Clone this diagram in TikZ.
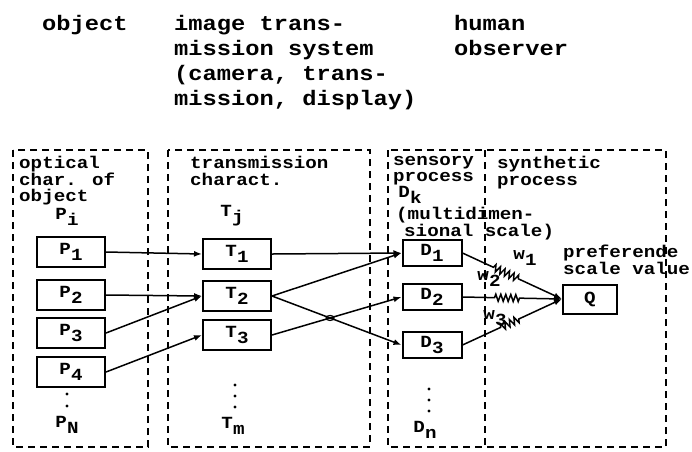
\documentclass[tikz,border=0pt]{standalone}
\usepackage{fontspec}
\newfontfamily\dotfont{Liberation Mono}[FakeStretch=1.13]
\usetikzlibrary{arrows.meta,decorations.pathmorphing,intersections}
\newcommand{\sub}[1]{\raisebox{-0.35em}{#1}}
\tikzset{
  frame/.style={dash pattern=on 7pt off 5pt, line width=1.6pt},
  blk/.style={draw, line width=2pt, minimum width=68pt, minimum height=30pt, inner sep=0pt},
  lbl/.style={anchor=north west, align=left, inner sep=0pt},
  head/.style={font=\dotfont\bfseries\fontsize{21}{25}\selectfont},
  wire/.style={line width=1.5pt, -{Latex[length=8pt,width=6pt]}},
  spring/.style 2 args={wire, decorate, decoration={zigzag, segment length=5pt, amplitude=3.5pt, pre length=#1, post length=#2}}
}
\begin{document}
\lineskiplimit=-100pt
\begin{tikzpicture}[x=1pt,y=-1pt,every node/.style={font=\dotfont\bfseries\fontsize{17}{16.5}\selectfont}]
\useasboundingbox (0,0) rectangle (692,451);
%headings
\node[head, lbl] (hobj) at (42,15) {object};
\node[head, lbl] (hsys) at (174,15) {image trans-\\mission system\\(camera, trans-\\mission, display)};
\node[head, lbl] (hobs) at (454,15) {human\\observer};
%dashed frames
\draw[frame] (13,150) rectangle (148,447);
\draw[frame] (168,150) rectangle (370,447);
\draw[frame] (388,150) rectangle (666,447);
\draw[frame] (485,150) -- (485,447);
%frame captions
\node[lbl] (cobj) at (19,156) {optical\\char. of\\object};
\node (Pi) at (67,217) {P\sub{i}};
\node[lbl] (ctra) at (190,156) {transmission\\charact.};
\node (Tj) at (232,216) {T\sub{j}};
\node[lbl] (csen) at (393,156) {sensory\\process};
\node (Dk) at (410,195) {D\sub{k}};
\node[lbl] (cdim) at (396,207) {(multidimen-\\\hspace*{8pt}sional scale)};
\node[lbl] (csyn) at (497,156) {synthetic\\process};
\node[lbl] (cpref) at (563,245) {preferende\\scale value};
%blocks
\foreach \i/\y in {1/252,2/295,3/333,4/372}
  \node[blk] (P\i) at (71,\y) {P\sub{\i}};
\foreach \i/\y in {1/254,2/296,3/335}
  \node[blk] (T\i) at (237,\y) {T\sub{\i}};
\foreach \i/\y in {1/253,2/297,3/345}
  \node[blk, minimum width=59pt, minimum height=26pt] (D\i) at (432,\y) {D\sub{\i}};
\node[blk, minimum width=54pt, minimum height=29pt] (Q) at (590,299) {Q};
%dots and last indices
\foreach \y in {394,406}
  \fill (67,\y) circle (1.7pt);
\foreach \y in {385,396,407}
  \fill (235,\y) circle (1.7pt);
\foreach \y in {389,400,411}
  \fill (429,\y) circle (1.7pt);
\node (PN) at (67,425) {P\sub{N}};
\node (Tm) at (233,426) {T\sub{m}};
\node (Dn) at (425,430) {D\sub{n}};
%connections
\draw[wire] (P1.east) -- (T1.west);
\draw[wire] (P2.east) -- (T2.west);
\draw[wire] (P3.east) -- (T2.west);
\draw[wire] (P4.east) -- (T3.west);
\draw[wire] (T1.east) -- (D1.west);
\draw[wire] (T2.east) -- (D1.west);
\draw[wire, name path=down] (T2.east) -- (D3.west);
\draw[wire, name path=up] (T3.east) -- (D2.west);
\path[name intersections={of=down and up, by=hop}];
\draw[line width=1.2pt] (hop) circle[x radius=4pt, y radius=2.5pt];
%weights
\draw[spring={34pt}{48pt}] (D1.east) -- (Q.west);
\draw[spring={32pt}{42pt}] (D2.east) -- (Q.west);
\draw[spring={42pt}{46pt}] (D3.east) -- (Q.west);
\node (w1) at (525,258) {w\sub{1}};
\node (w2) at (489,279) {w\sub{2}};
\node (w3) at (495,318) {w\sub{3}};
\end{tikzpicture}
\end{document}
